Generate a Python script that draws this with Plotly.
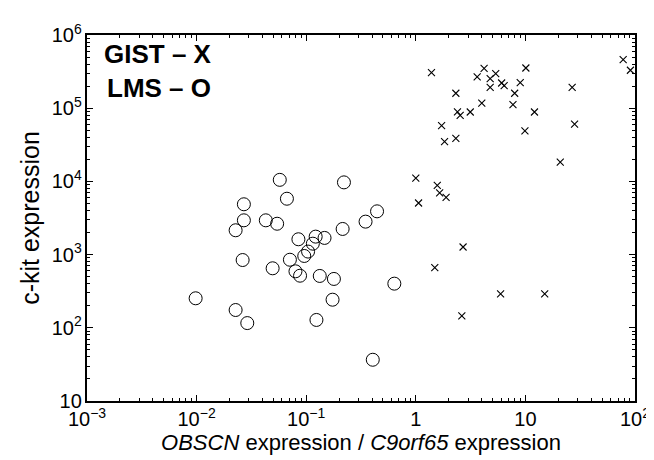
import plotly.graph_objects as go

gist_x = [1.39, 2.32, 3.63, 4.2, 4.77, 5.36, 4.77, 6.07, 6.4, 7.98, 8.97, 10.1, 7.7, 12.1, 9.9,
          4.0, 3.14, 2.4, 2.54, 1.72, 1.83, 2.32, 26.7, 28.1, 20.8, 78, 90.8,
          1.0, 1.06, 1.57, 1.65, 1.89, 2.7, 1.49, 5.94, 15.0, 2.63]
gist_y = [3.06e5, 1.6e5, 2.67e5, 3.5e5, 2.53e5, 2.96e5, 1.93e5, 2.21e5, 2.03e5, 1.6e5, 2.24e5, 3.54e5, 1.12e5, 8.87e4, 4.9e4,
          1.17e5, 8.87e4, 8.9e4, 8.0e4, 5.8e4, 3.5e4, 3.87e4, 1.93e5, 6.08e4, 1.84e4, 4.6e5, 3.3e5,
          1.11e4, 5.07e3, 8.85e3, 6.95e3, 6.07e3, 1.27e3, 662, 290, 290, 146]

lms_x = [0.0574, 0.221, 0.027, 0.0667, 0.027, 0.0227, 0.0428, 0.0543, 0.443, 0.348, 0.215, 0.0849,
         0.122, 0.147, 0.115, 0.104, 0.096, 0.0263, 0.071, 0.0494, 0.0798, 0.0879, 0.133, 0.179,
         0.0098, 0.0227, 0.029, 0.124, 0.174, 0.405, 0.637]
lms_y = [1.05e4, 9.7e3, 4.87e3, 5.8e3, 2.94e3, 2.15e3, 2.94e3, 2.64e3, 3.9e3, 2.82e3, 2.24e3, 1.62e3,
         1.76e3, 1.69e3, 1.41e3, 1.1e3, 958, 843, 851, 650, 591, 515, 511, 465,
         253, 175, 116, 128, 242, 36.6, 401]

FONT = "Arial, Liberation Sans, Helvetica, sans-serif"

fig = go.Figure()
fig.add_trace(go.Scatter(x=gist_x, y=gist_y, mode="markers", name="GIST",
                         marker=dict(symbol="x-thin-open", size=7, color="black",
                                     line=dict(width=1.1, color="black"))))
fig.add_trace(go.Scatter(x=lms_x, y=lms_y, mode="markers", name="LMS",
                         marker=dict(symbol="circle-open", size=13, color="black",
                                     line=dict(width=1, color="black"))))

axis_common = dict(type="log", dtick=1, exponentformat="power", showgrid=False, zeroline=False,
                   ticks="inside", ticklen=6, tickwidth=1, tickcolor="black",
                   showline=True, linecolor="black", linewidth=2, mirror="allticks",
                   tickfont=dict(family=FONT, size=16, color="black"),
                   minor=dict(ticks="inside", ticklen=3, tickcolor="black", tickwidth=1, showgrid=False))

fig.update_xaxes(range=[-3, 2], **axis_common,
                 title=dict(text="<i>OBSCN</i> expression / <i>C9orf65</i> expression",
                            font=dict(family=FONT, size=22, color="black"), standoff=4))
fig.update_yaxes(range=[1, 6], **axis_common,
                 title=dict(text="c-kit expression",
                            font=dict(family=FONT, size=25, color="black"), standoff=5))

fig.add_annotation(x=0.027, y=0.948, xref="paper", yref="paper", text="<b>GIST – X</b>",
                   showarrow=False, xanchor="left", yanchor="middle",
                   font=dict(family=FONT, size=26, color="black"))
fig.add_annotation(x=0.032, y=0.855, xref="paper", yref="paper", text="<b>LMS – O</b>",
                   showarrow=False, xanchor="left", yanchor="middle",
                   font=dict(family=FONT, size=26, color="black"))

fig.update_layout(width=654, height=460, showlegend=False,
                  paper_bgcolor="white", plot_bgcolor="white",
                  margin=dict(l=79, r=16, t=27, b=67))

fig.write_html("out.html")
